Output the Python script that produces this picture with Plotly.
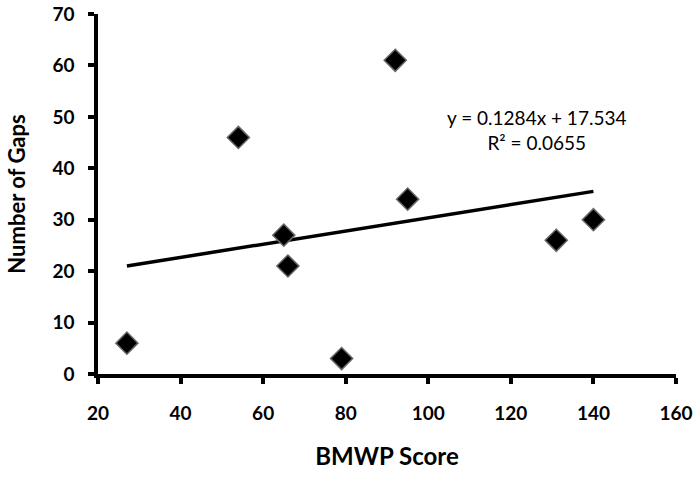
import plotly.graph_objects as go

bmwp_score = [27, 54, 65, 66, 79, 92, 95, 131, 140]
number_of_gaps = [6, 46, 27, 21, 3, 61, 34, 26, 30]
slope = 0.1284
intercept = 17.534
r_squared = 0.0655
x_ticks = [20, 40, 60, 80, 100, 120, 140, 160]
y_ticks = [0, 10, 20, 30, 40, 50, 60, 70]

trend_x = [min(bmwp_score), max(bmwp_score)]
trend_y = [slope * x + intercept for x in trend_x]

FAM = "Lato, Open Sans, sans-serif"

fig = go.Figure()
fig.add_trace(go.Scatter(
    x=trend_x, y=trend_y, mode="lines",
    line=dict(color="black", width=3.5), showlegend=False, hoverinfo="skip"))
fig.add_trace(go.Scatter(
    x=bmwp_score, y=number_of_gaps, mode="markers",
    marker=dict(symbol="diamond", size=17, color="black",
                line=dict(color="#666666", width=1.5)),
    showlegend=False))

fig.add_annotation(
    x=126.3, y=47.4,
    text=f"y = {slope}x + {intercept}<br>R² = {r_squared}",
    showarrow=False, xref="x", yref="y",
    font=dict(family=FAM, size=19, color="black"),
    align="center", yanchor="middle")

tick_font = dict(family=FAM, size=19, color="black")

fig.update_layout(
    width=695, height=477,
    margin=dict(l=98, r=19, t=14, b=103, autoexpand=False),
    paper_bgcolor="white", plot_bgcolor="white",
    font=dict(family=FAM, color="black"),
)
fig.update_xaxes(
    range=[20, 160], tickvals=x_ticks, ticktext=[f"<b>{v}</b>" for v in x_ticks],
    showgrid=False, zeroline=False, automargin=False,
    showline=True, linecolor="black", linewidth=3.5,
    ticks="outside", ticklen=6, tickwidth=3.5, tickcolor="black",
    ticklabelstandoff=13,
    tickfont=tick_font,
    title=dict(text="<b>BMWP Score</b>", font=dict(family=FAM, size=24, color="black"), standoff=27))
fig.update_yaxes(
    range=[0, 70], tickvals=y_ticks, ticktext=[f"<b>{v}</b>" for v in y_ticks],
    showgrid=False, zeroline=False, automargin=False,
    showline=True, linecolor="black", linewidth=3.5,
    ticks="outside", ticklen=6, tickwidth=3.5, tickcolor="black",
    ticklabelstandoff=10,
    tickfont=tick_font,
    title=dict(text="<b>Number of Gaps</b>", font=dict(family=FAM, size=22, color="black"), standoff=22))

fig.write_html("out.html", config={"displayModeBar": False},
               post_script="document.body.style.margin='0';document.body.style.overflow='hidden';")
